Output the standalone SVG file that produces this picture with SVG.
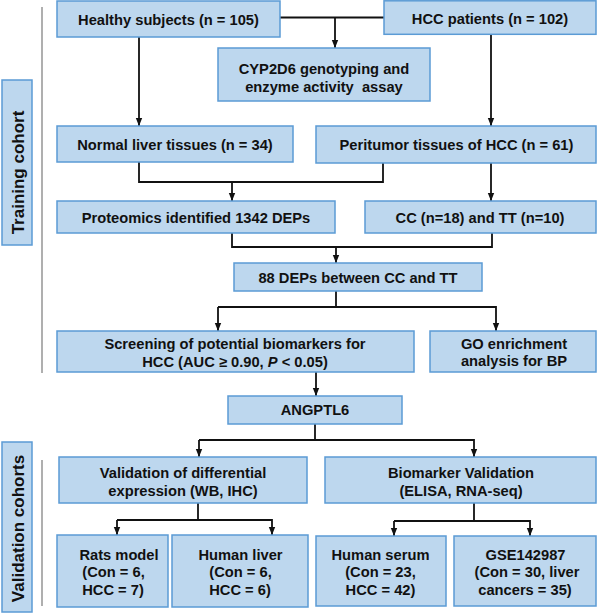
<svg xmlns="http://www.w3.org/2000/svg" width="598" height="613" viewBox="0 0 598 613">
<defs>
<style>
.box{fill:#bdd7ee;stroke:#5b9bd5;stroke-width:1.5}
.t{font-family:"Liberation Sans",Arial,sans-serif;font-weight:bold;font-size:14.7px;fill:#111;text-anchor:middle}
.lab{font-family:"Liberation Sans",Arial,sans-serif;font-weight:bold;font-size:17px;fill:#111;text-anchor:middle}
.c{fill:none;stroke:#111;stroke-width:1.8}
.a{fill:none;stroke:#111;stroke-width:1.8;marker-end:url(#ah)}
.g{stroke:#7a7a7a;stroke-width:1.2}
</style>
<marker id="ah" markerUnits="userSpaceOnUse" markerWidth="8" markerHeight="8" viewBox="0 0 8 8" refX="8" refY="4" orient="auto">
<path d="M0,0.8 L8,4 L0,7.2 Z" fill="#111"/>
</marker>
</defs>
<rect width="598" height="613" fill="#fff"/>

<g id="side-labels">
<line class="g" x1="42" y1="7" x2="42" y2="373"/>
<line class="g" x1="42" y1="460" x2="42" y2="606"/>
<g id="training-cohort">
<rect class="box" x="2" y="80" width="30" height="165"/>
<text class="lab" transform="translate(24,172.5) rotate(-90)">Training cohort</text>
</g>
<g id="validation-cohorts">
<rect class="box" x="2" y="442" width="30" height="170"/>
<text class="lab" transform="translate(24,528.5) rotate(-90)">Validation cohorts</text>
</g>
</g>

<g id="connectors">
<path class="a" d="M139,37 V126"/>
<path class="c" d="M280,17.5 H384"/>
<path class="a" d="M335,17.5 V48"/>
<path class="a" d="M491,34 V126"/>
<path class="c" d="M139,162 V182 H383 V163"/>
<path class="a" d="M232,182 V201"/>
<path class="a" d="M491,163 V201"/>
<path class="c" d="M232,233 V247 H492 V233"/>
<path class="a" d="M336,247 V263"/>
<path class="c" d="M336,291 V307"/>
<path class="a" d="M218,307 V331"/>
<path class="a" d="M218,307 H496 V331"/>
<path class="a" d="M316,372 V396"/>
<path class="c" d="M315,424 V440"/>
<path class="a" d="M199,440 V457"/>
<path class="a" d="M199,440 H474 V457"/>
<path class="c" d="M198,503 V520"/>
<path class="a" d="M117,520 V535"/>
<path class="a" d="M117,520 H272 V535"/>
<path class="c" d="M474,503 V521"/>
<path class="a" d="M394,521 V536"/>
<path class="a" d="M394,521 H530 V536"/>
</g>

<g id="healthy">
<rect class="box" x="57" y="1" width="223" height="36"/>
<text class="t" x="168.5" y="25">Healthy subjects (n = 105)</text>
</g>
<g id="hcc-patients">
<rect class="box" x="384" y="0.8" width="212" height="33.5"/>
<text class="t" x="490" y="24">HCC patients (n = 102)</text>
</g>
<g id="cyp2d6">
<rect class="box" x="218" y="48" width="212" height="53"/>
<text class="t" x="324" y="74">CYP2D6 genotyping and</text>
<text class="t" x="324" y="91.5" xml:space="preserve">enzyme activity  assay</text>
</g>
<g id="normal-liver">
<rect class="box" x="57" y="126" width="236" height="36"/>
<text class="t" x="175" y="150">Normal liver tissues (n = 34)</text>
</g>
<g id="peritumor">
<rect class="box" x="316" y="126" width="280" height="37"/>
<text class="t" x="456.5" y="150">Peritumor tissues of HCC (n = 61)</text>
</g>
<g id="proteomics">
<rect class="box" x="57" y="201" width="278" height="32"/>
<text class="t" x="196" y="223">Proteomics identified 1342 DEPs</text>
</g>
<g id="cc-tt">
<rect class="box" x="365" y="201" width="231" height="32"/>
<text class="t" x="480" y="223">CC (n=18) and TT (n=10)</text>
</g>
<g id="deps88">
<rect class="box" x="234" y="263" width="248" height="28"/>
<text class="t" x="358" y="282.5">88 DEPs between CC and TT</text>
</g>
<g id="screening">
<rect class="box" x="57" y="331" width="357" height="41"/>
<text class="t" x="235" y="349">Screening of potential biomarkers for</text>
<text class="t" x="235" y="366.5">HCC (AUC ≥ 0.90, <tspan font-style="italic">P</tspan> &lt; 0.05)</text>
</g>
<g id="go">
<rect class="box" x="430" y="331" width="166" height="41"/>
<text class="t" x="514" y="348.5">GO enrichment</text>
<text class="t" x="514" y="366">analysis for BP</text>
</g>
<g id="angptl6">
<rect class="box" x="228" y="396" width="174" height="28"/>
<text class="t" x="315" y="415">ANGPTL6</text>
</g>
<g id="validation-diff">
<rect class="box" x="59" y="457" width="248" height="46"/>
<text class="t" x="183" y="477.5">Validation of differential</text>
<text class="t" x="183" y="495.5">expression (WB, IHC)</text>
</g>
<g id="biomarker-validation">
<rect class="box" x="325" y="457" width="271" height="46"/>
<text class="t" x="461" y="477.5">Biomarker Validation</text>
<text class="t" x="461" y="495.5">(ELISA, RNA-seq)</text>
</g>
<g id="rats">
<rect class="box" x="57" y="535" width="111" height="72"/>
<text class="t" x="119" y="559.5">Rats model</text>
<text class="t" x="113.5" y="577">(Con = 6,</text>
<text class="t" x="113" y="594.5">HCC = 7)</text>
</g>
<g id="human-liver">
<rect class="box" x="172" y="535" width="136" height="72"/>
<text class="t" x="240.5" y="559.5">Human liver</text>
<text class="t" x="240.5" y="577">(Con = 6,</text>
<text class="t" x="240" y="594.5">HCC = 6)</text>
</g>
<g id="human-serum">
<rect class="box" x="316" y="536" width="130" height="70"/>
<text class="t" x="380.5" y="559.5">Human serum</text>
<text class="t" x="380.5" y="577">(Con = 23,</text>
<text class="t" x="380.5" y="594.5">HCC = 42)</text>
</g>
<g id="gse">
<rect class="box" x="454" y="536" width="142" height="70"/>
<text class="t" x="525.5" y="559.5">GSE142987</text>
<text class="t" x="527" y="577">(Con = 30, liver</text>
<text class="t" x="525" y="594.5">cancers = 35)</text>
</g>
</svg>
